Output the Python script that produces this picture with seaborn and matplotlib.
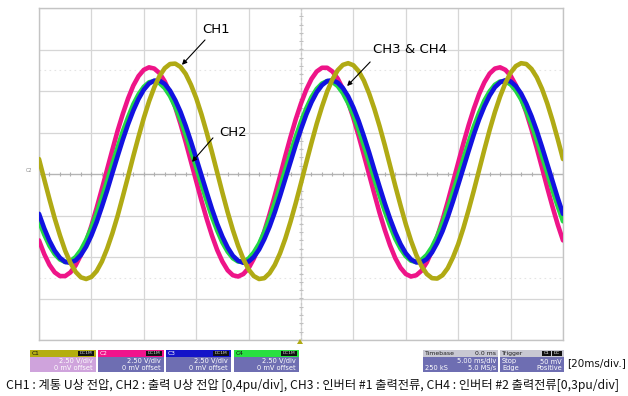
import numpy as np
import pandas as pd
import matplotlib
matplotlib.use("Agg")
import matplotlib.pyplot as plt
import seaborn as sns
from matplotlib.patches import Rectangle, Polygon

# time in ms (5 ms/div), trace values in screen divisions x0.01
t_ms = list(range(0, 51))
ch1 = [36, -61, -148, -214, -249, -248, -211, -143, -54, 43, 135, 209, 255, 266, 241, 183, 100, 4, -92, -173, -230, -253, -239, -191, -115, -22, 75, 162, 228, 263, 262, 225, 157, 69, -29, -121, -195, -241, -252, -227, -169, -86, 10, 106, 187, 244, 267, 253, 205, 129, 36]
ch2 = [-160, -219, -246, -237, -195, -125, -36, 58, 145, 213, 251, 254, 223, 161, 77, -17, -108, -183, -232, -247, -227, -174, -97, -5, 89, 170, 229, 256, 247, 205, 135, 46, -48, -135, -203, -241, -244, -213, -151, -67, 27, 118, 193, 242, 257, 237, 184, 107, 15, -79, -160]
ch3 = [-96, -161, -202, -214, -195, -148, -79, 2, 83, 153, 203, 225, 217, 178, 116, 38, -44, -120, -177, -209, -211, -182, -127, -53, 29, 108, 173, 214, 226, 207, 160, 91, 10, -71, -141, -191, -213, -205, -166, -104, -26, 56, 132, 189, 221, 223, 194, 139, 65, -17, -96]
ch4 = [-114, -173, -206, -210, -183, -130, -57, 24, 103, 168, 210, 224, 207, 162, 95, 16, -65, -136, -187, -211, -204, -168, -107, -31, 51, 126, 185, 218, 222, 195, 142, 69, -12, -90, -156, -198, -212, -195, -150, -83, -4, 77, 148, 199, 223, 216, 180, 119, 43, -39, -114]

# samples at the half-millisecond points
t_half = [t + 0.5 for t in range(0, 50)]
h1 = [-13, -107, -185, -236, -253, -234, -180, -101, -6, 90, 175, 236, 265, 258, 215, 144, 53, -45, -135, -205, -246, -251, -219, -156, -70, 27, 121, 199, 250, 267, 248, 194, 115, 20, -76, -161, -222, -251, -244, -201, -130, -39, 59, 149, 219, 260, 265, 233, 170, 84]
h2 = [-193, -237, -246, -220, -163, -82, 11, 104, 182, 236, 257, 243, 195, 121, 30, -64, -148, -211, -244, -241, -204, -138, -52, 43, 132, 203, 247, 256, 230, 173, 92, -1, -94, -172, -226, -247, -233, -185, -111, -20, 74, 158, 221, 254, 251, 214, 148, 62, -33, -122]
h3 = [-131, -185, -212, -208, -175, -116, -40, 43, 120, 181, 218, 225, 201, 150, 78, -3, -84, -151, -197, -214, -200, -157, -92, -12, 70, 143, 197, 224, 220, 187, 128, 52, -31, -108, -169, -206, -213, -189, -138, -66, 15, 96, 163, 209, 226, 212, 169, 104, 24, -58]
h4 = [-146, -193, -212, -200, -159, -95, -17, 64, 137, 192, 221, 219, 188, 131, 56, -25, -103, -165, -203, -211, -189, -140, -70, 10, 90, 158, 205, 224, 212, 171, 107, 29, -52, -125, -180, -209, -207, -176, -119, -44, 37, 115, 177, 215, 223, 201, 152, 82, 2, -78]

channels = ["CH2", "CH4", "CH3", "CH1"]  # drawing order (CH1 on top)

W, H = 628, 396
sns.set_theme(style="white")
plt.rcParams["font.family"] = ["DejaVu Sans"]

fig = plt.figure(figsize=(W / 100, H / 100), dpi=100)
fig.patch.set_facecolor("white")
ax = fig.add_axes([39 / W, 1 - 340 / H, 524 / W, 332 / H])

rows = []
for name, full, half in [("CH2", ch2, h2), ("CH4", ch4, h4), ("CH3", ch3, h3), ("CH1", ch1, h1)]:
    for t, v in zip(t_ms, full):
        rows.append((name, t, v / 100))
    for t, v in zip(t_half, half):
        rows.append((name, t, v / 100))
df = pd.DataFrame(rows, columns=["ch", "t", "v"]).sort_values(["ch", "t"])

colors = {"CH2": "#ee1488", "CH4": "#22d844", "CH3": "#1212e0", "CH1": "#b0aa14"}
for ch in channels:
    sns.lineplot(data=df[df.ch == ch], x="t", y="v", color=colors[ch], lw=3.3,
                 ax=ax, legend=False, zorder=3, sort=False)

ax.set_xlim(0, 50)
ax.set_ylim(-4, 4)
ax.set_xticks(np.arange(0, 51, 5))
ax.set_yticks(np.arange(-4, 5, 1))
ax.grid(True, color="#d6d6d6", lw=0.9)
ax.tick_params(length=0, labelbottom=False, labelleft=False)
ax.set_xlabel("")
ax.set_ylabel("")
for s in ax.spines.values():
    s.set_color("#c4c4c4")
    s.set_linewidth(1.0)
ax.axhline(0, color="#b4b4b4", lw=0.9, zorder=1)
ax.axvline(25, color="#c8c8c8", lw=0.9, ls=(0, (2, 2)), zorder=1)
ax.plot(np.arange(0, 50.1, 1), np.zeros(51), ls="none", marker="|", ms=3, color="#b0b0b0", mew=0.8, zorder=1)
ax.plot(np.full(41, 25), np.arange(-4, 4.01, 0.2), ls="none", marker="_", ms=3, color="#c0c0c0", mew=0.8, zorder=1)
for yy in (2.5, -2.5):
    ax.axhline(yy, color="#e4e4e4", lw=0.8, ls=(0, (1.5, 3)), zorder=1)

arrow = dict(arrowstyle="-|>", color="black", lw=0.8, mutation_scale=7, shrinkA=0, shrinkB=0)
tfont = dict(family=["DejaVu Sans"], fontsize=9.5, color="black", ha="center", va="center")
ax.annotate("", xy=(13.64, 2.63), xytext=(15.84, 3.23), arrowprops=arrow, zorder=5)
ax.text(16.9, 3.47, "CH1", **tfont)
ax.annotate("", xy=(14.6, 0.29), xytext=(16.6, 0.87), arrowprops=arrow, zorder=5)
ax.text(18.5, 1.01, "CH2", **tfont)
ax.annotate("", xy=(29.4, 2.12), xytext=(31.6, 2.7), arrowprops=arrow, zorder=5)
ax.text(35.4, 2.99, "CH3 & CH4", **tfont)
ax.text(-0.6, 0.08, "C2", fontsize=3.5, color="#888888", ha="right", va="center")

# ---- scope status bar (figure pixel coordinates, y from top) ----
def fx(x):
    return x / W

def fy(y):
    return 1 - y / H

def rect(x0, y0, x1, y1, color, ec="none"):
    fig.patches.append(Rectangle((fx(x0), fy(y1)), (x1 - x0) / W, (y1 - y0) / H,
                                 transform=fig.transFigure, facecolor=color, edgecolor=ec, lw=0.5))

def ftext(x, y, s, size=4.8, color="white", ha="left", family="DejaVu Sans"):
    fig.text(fx(x), fy(y), s, fontsize=size, color=color, ha=ha, va="center", family=family)

fig.patches.append(Polygon([(fx(297), fy(344)), (fx(303), fy(344)), (fx(300), fy(339))],
                           closed=True, transform=fig.transFigure, facecolor="#b0aa14", edgecolor="none"))

body = "#6e6eb2"
boxes = [
    (30, 96, "#b4ae10", "#cfa3dc", "C1"),
    (98, 164, "#f0148c", body, "C2"),
    (166, 231, "#1414c8", body, "C3"),
    (234, 299, "#28e040", body, "C4"),
]
for x0, x1, hc, bc, lab in boxes:
    rect(x0, 350, x1, 357, hc)
    rect(x0, 357, x1, 372, bc)
    ftext(x0 + 2, 353.5, lab, size=4.2, color="#101010" if lab in ("C1", "C4") else "white")
    rect(x1 - 18, 351, x1 - 2, 356, "#111111")
    ftext(x1 - 10, 353.5, "DC1M", size=3.2, color="#dddddd", ha="center")
    ftext(x1 - 3, 361.5, "2.50 V/div", ha="right")
    ftext(x1 - 3, 368, "0 mV offset", ha="right")

rect(423, 350, 498, 357, "#c8c8d2")
rect(423, 357, 498, 372, body)
ftext(425, 353.5, "Timebase", size=4.4, color="#202020")
ftext(496, 353.5, "0.0 ms", size=4.4, color="#202020", ha="right")
ftext(496, 361.5, "5.00 ms/div", ha="right")
ftext(425, 368, "250 kS")
ftext(496, 368, "5.0 MS/s", ha="right")

rect(500, 350, 564, 357, "#c8c8d2")
rect(500, 357, 564, 372, body)
ftext(502, 353.5, "Trigger", size=4.4, color="#202020")
rect(542, 351, 551, 356, "#111111")
rect(552, 351, 562, 356, "#111111")
ftext(546.5, 353.5, "C1", size=3.2, color="white", ha="center")
ftext(557, 353.5, "DC", size=3.2, color="white", ha="center")
ftext(502, 361.5, "Stop")
ftext(562, 361.5, "50 mV", ha="right")
ftext(502, 368, "Edge")
ftext(562, 368, "Positive", ha="right")

fig.text(fx(567), fy(363), "[20ms/div.]", fontsize=7.5, color="#111111", ha="left", va="center")

caption = ("CH1 : 계통 U상 전압, CH2 : 출력 U상 전압 [0,4pu/div], CH3 : 인버터 #1 출력전류, "
           "CH4 : 인버터 #2 출력전류[0,3pu/div]")
fig.text(fx(313), fy(385), caption, fontsize=8.8, color="#111111", ha="center", va="center",
         family=["Noto Sans CJK KR", "DejaVu Sans"])

fig.savefig("out.png", dpi=100)
